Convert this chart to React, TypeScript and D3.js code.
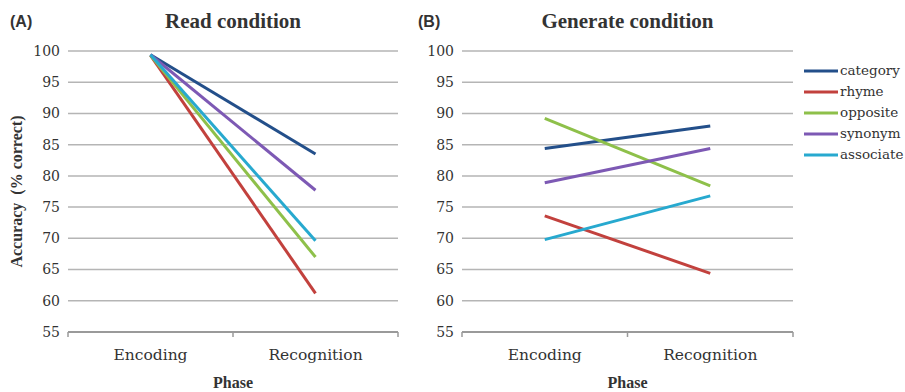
import * as d3 from "d3";

const phases = ["Encoding", "Recognition"];
const seriesNames = ["category", "rhyme", "opposite", "synonym", "associate"];
const seriesColors = ["#234f8a", "#c2413d", "#8ec04a", "#7d59b4", "#27a9cf"];
const readEncoding = [99.4, 99.3, 99.3, 99.4, 99.4];
const readRecognition = [83.5, 61.2, 67.0, 77.7, 69.6];
const genEncoding = [84.4, 73.6, 89.2, 78.9, 69.8];
const genRecognition = [88.0, 64.4, 78.4, 84.4, 76.8];
const yTicks = [55, 60, 65, 70, 75, 80, 85, 90, 95, 100];

const W = 905;
const H = 392;
const yTop = 51;
const yBottom = 332;

const serifFam = "Liberation Serif";
const regFam = "DejaVu Serif";
const sansFam = "Liberation Sans";
const textCol = "#333";

function Panel({ x0, x1, title, tag, tagX, enc, rec }: {
  x0: number; x1: number; title: string; tag: string; tagX: number;
  enc: number[]; rec: number[];
}) {
  const y = d3.scaleLinear().domain([55, 100]).range([yBottom, yTop]);
  const x = d3.scaleBand().domain(phases).range([x0, x1]);
  const cx = (p: string) => (x(p) ?? 0) + x.bandwidth() / 2;
  const line = d3.line<[number, number]>().x((d) => d[0]).y((d) => d[1]);
  const mid = (x0 + x1) / 2;
  return (
    <g>
      <text x={tagX} y={27} fontFamily={sansFam} fontWeight={700} fontSize={16} fill={textCol}>{tag}</text>
      <text x={mid} y={28} textAnchor="middle" fontFamily={serifFam} fontWeight={700} fontSize={21} fill={textCol}>{title}</text>
      {yTicks.map((t) => (
        <g key={t}>
          {t > 55 && (
            <line x1={x0} x2={x1} y1={y(t)} y2={y(t)} stroke="#b5b5b5" strokeWidth={1.5} />
          )}
          <text x={x0 - 8} y={y(t)} dy="0.35em" textAnchor="end" fontFamily={regFam} fontSize={14} fill={textCol}>{t}</text>
        </g>
      ))}
      <line x1={x0} x2={x1} y1={y(55)} y2={y(55)} stroke="#9a9a9a" strokeWidth={2} />
      {[x0, (x0 + x1) / 2, x1].map((tx, i) => (
        <line key={i} x1={tx} x2={tx} y1={y(55)} y2={y(55) + 5} stroke="#9a9a9a" strokeWidth={1.5} />
      ))}
      {phases.map((p) => (
        <text key={p} x={cx(p)} y={360} textAnchor="middle" fontFamily={regFam} fontSize={15.5} fill={textCol}>{p}</text>
      ))}
      <text x={mid} y={388} textAnchor="middle" fontFamily={serifFam} fontWeight={700} fontSize={16} fill={textCol}>Phase</text>
      {seriesNames.map((s, i) => (
        <path
          key={s}
          d={line([[cx(phases[0]), y(enc[i])], [cx(phases[1]), y(rec[i])]]) ?? ""}
          stroke={seriesColors[i]}
          strokeWidth={3}
          fill="none"
        />
      ))}
    </g>
  );
}

export default function App() {
  return (
    <svg width={W} height={H} style={{ position: "absolute", left: 0, top: 0, background: "#fff" }}>
      <text
        transform={`translate(22, ${(yTop + yBottom) / 2}) rotate(-90)`}
        textAnchor="middle"
        fontFamily={serifFam}
        fontWeight={700}
        fontSize={16}
        fill={textCol}
      >
        Accuracy{"\u00a0\u00a0"}(% correct)
      </text>
      <Panel x0={68} x1={398} title="Read condition" tag="(A)" tagX={10} enc={readEncoding} rec={readRecognition} />
      <Panel x0={462} x1={793} title="Generate condition" tag="(B)" tagX={418} enc={genEncoding} rec={genRecognition} />
      {seriesNames.map((s, i) => (
        <g key={s} transform={`translate(804, ${71 + i * 21})`}>
          <line x1={0} x2={34} y1={0} y2={0} stroke={seriesColors[i]} strokeWidth={3} />
          <text x={36} y={0} dy="0.32em" fontFamily={regFam} fontSize={13.5} fill={textCol}>{s}</text>
        </g>
      ))}
    </svg>
  );
}
